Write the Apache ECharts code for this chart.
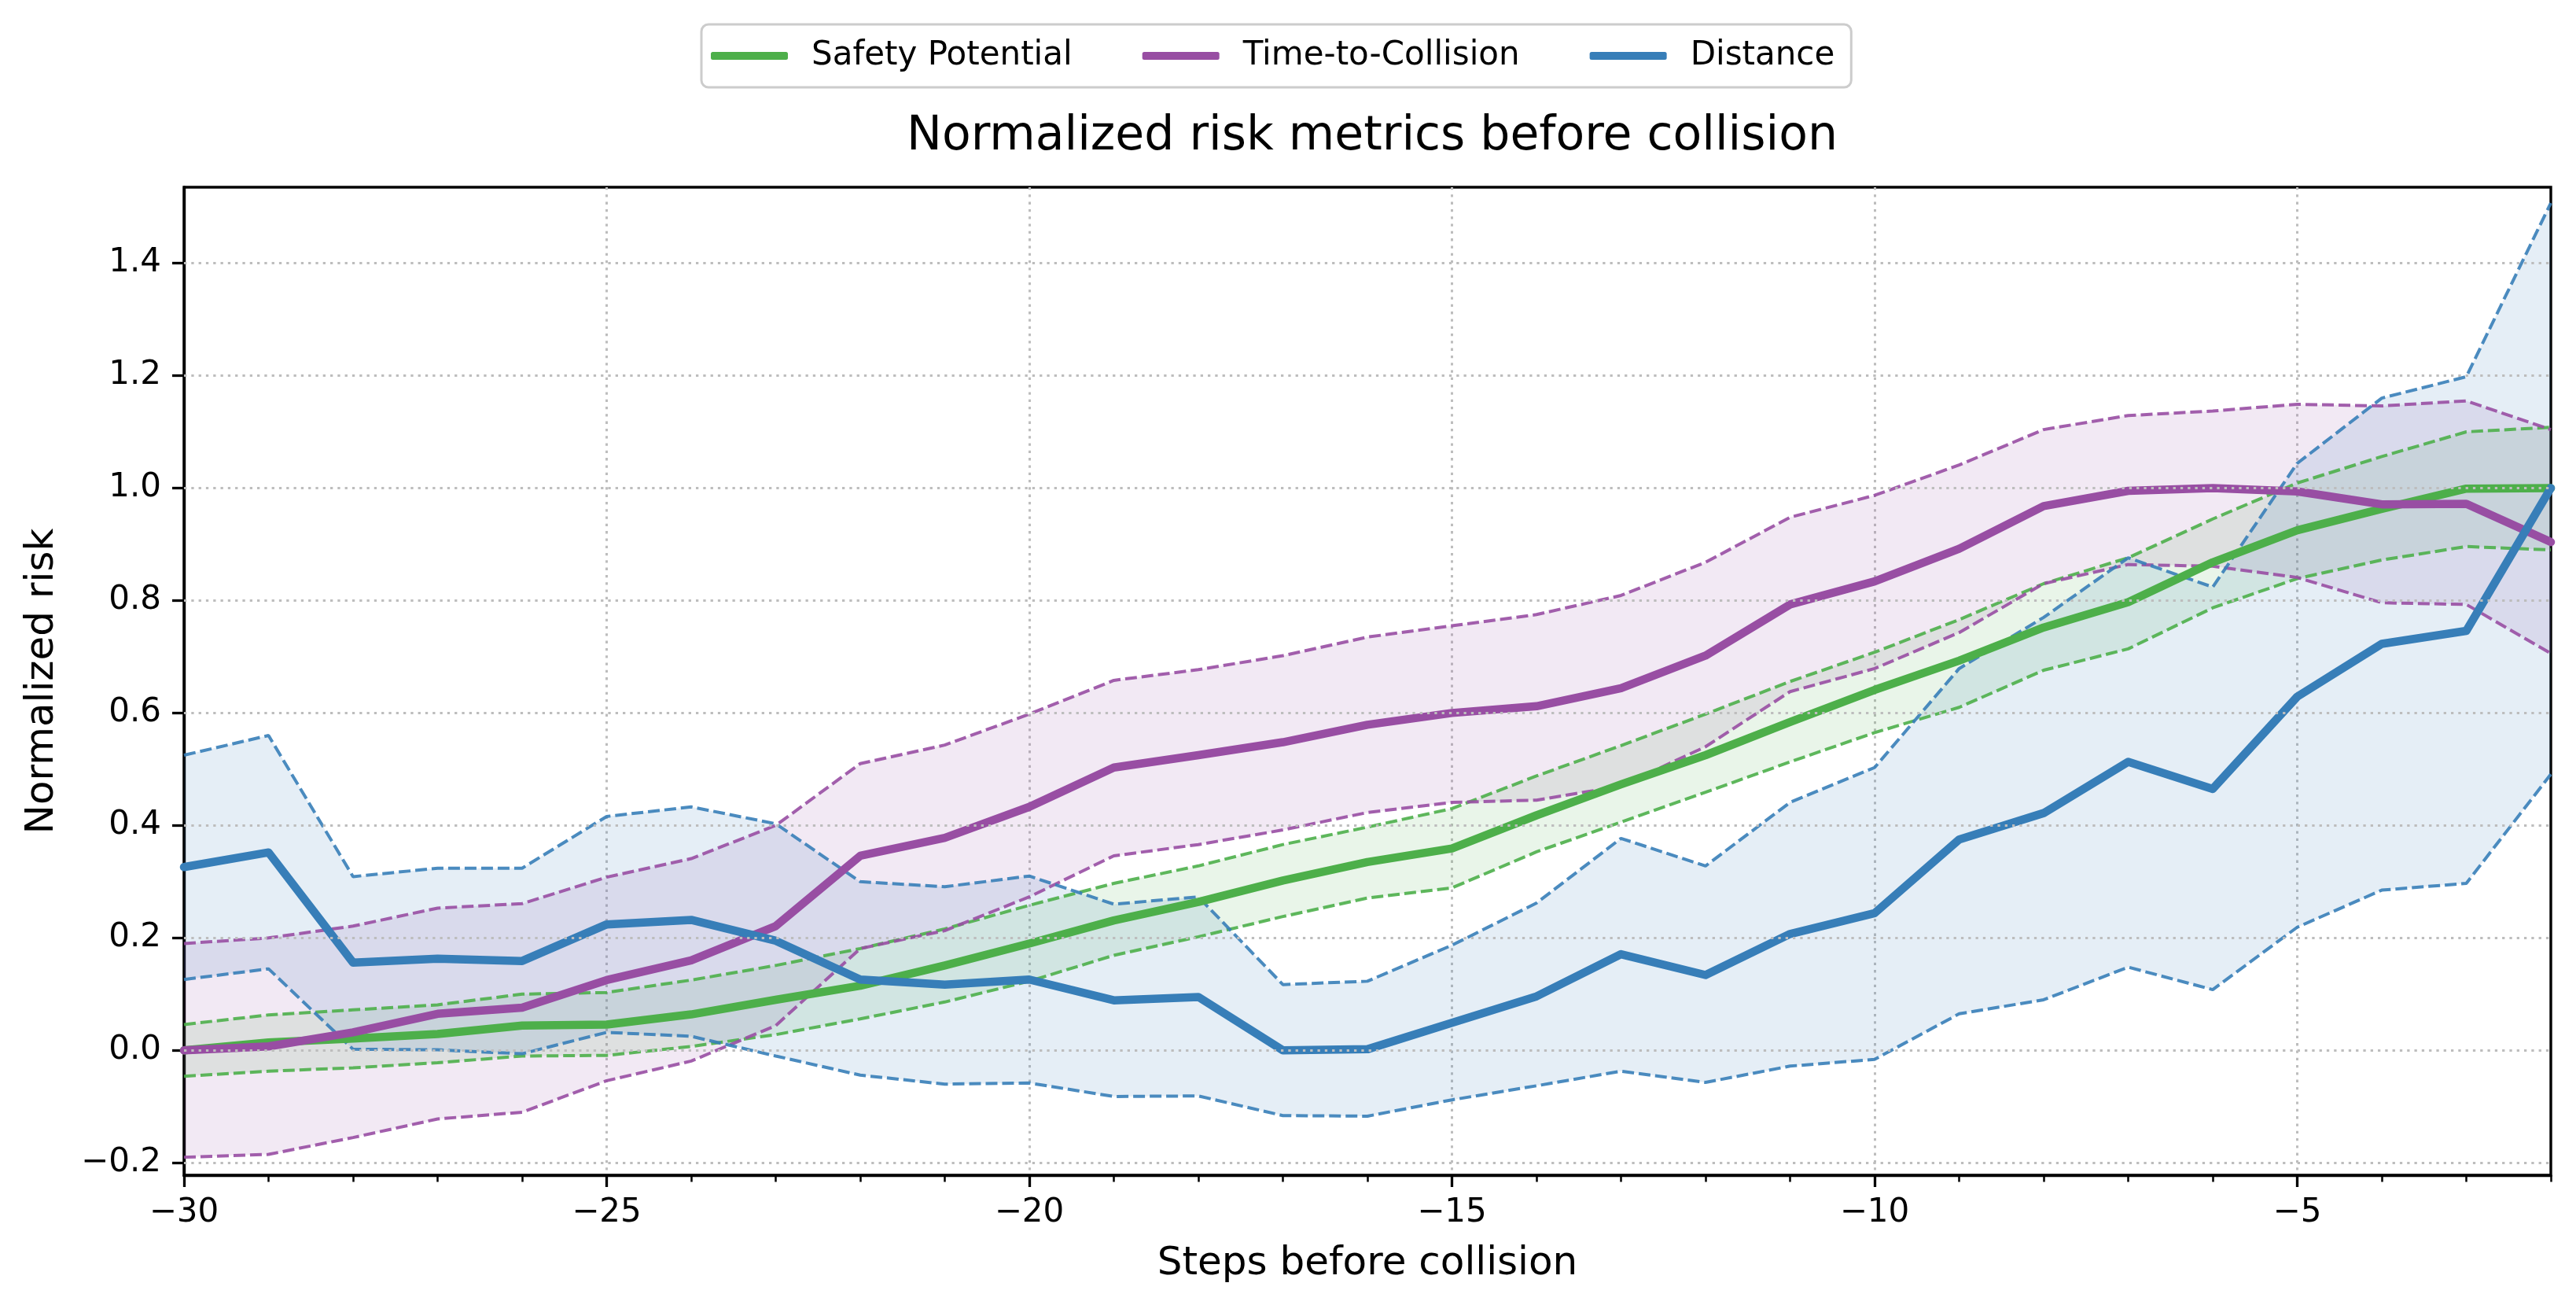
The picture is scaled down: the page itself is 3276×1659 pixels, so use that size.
<!DOCTYPE html>
<html>
<head>
<meta charset="utf-8">
<script src="https://cdn.jsdelivr.net/npm/echarts@6/dist/echarts.min.js"></script>
<style>
html,body{margin:0;padding:0;background:#fff;}
#chart{width:3276px;height:1659px;}
</style>
</head>
<body>
<div id="chart"></div>
<script>
const steps = [-30,-29,-28,-27,-26,-25,-24,-23,-22,-21,-20,-19,-18,-17,-16,-15,-14,-13,-12,-11,-10,-9,-8,-7,-6,-5,-4,-3,-2];

const spMean  = [0.000,0.014,0.021,0.029,0.044,0.046,0.064,0.090,0.115,0.151,0.190,0.231,0.264,0.302,0.335,0.359,0.418,0.473,0.525,0.584,0.641,0.693,0.752,0.797,0.868,0.925,0.963,0.999,1.000];
const spUpper = [0.046,0.063,0.072,0.081,0.100,0.103,0.125,0.151,0.181,0.216,0.258,0.297,0.328,0.366,0.397,0.430,0.488,0.542,0.598,0.656,0.708,0.766,0.830,0.876,0.945,1.009,1.056,1.100,1.108];
const spLower = [-0.046,-0.037,-0.031,-0.022,-0.010,-0.009,0.007,0.028,0.056,0.086,0.123,0.169,0.202,0.238,0.271,0.289,0.353,0.406,0.459,0.513,0.565,0.610,0.676,0.714,0.787,0.839,0.872,0.896,0.890];

const ttcMean  = [0.000,0.007,0.032,0.065,0.076,0.125,0.160,0.221,0.346,0.378,0.433,0.503,0.525,0.548,0.579,0.600,0.612,0.644,0.702,0.793,0.834,0.892,0.968,0.995,1.000,0.994,0.971,0.972,0.904];
const ttcUpper = [0.190,0.200,0.221,0.253,0.261,0.308,0.341,0.400,0.510,0.543,0.598,0.658,0.677,0.702,0.735,0.755,0.775,0.809,0.868,0.948,0.987,1.041,1.104,1.129,1.137,1.149,1.146,1.155,1.104];
const ttcLower = [-0.190,-0.185,-0.155,-0.122,-0.110,-0.054,-0.019,0.044,0.181,0.213,0.273,0.346,0.366,0.392,0.423,0.441,0.445,0.470,0.540,0.638,0.679,0.743,0.830,0.864,0.861,0.841,0.796,0.793,0.706];

const distMean  = [0.326,0.352,0.156,0.163,0.159,0.224,0.232,0.195,0.126,0.117,0.126,0.089,0.095,0.000,0.002,0.049,0.096,0.171,0.134,0.207,0.244,0.375,0.422,0.513,0.465,0.629,0.723,0.746,1.000];
const distUpper = [0.525,0.560,0.309,0.324,0.324,0.416,0.433,0.403,0.300,0.291,0.310,0.260,0.273,0.117,0.123,0.187,0.262,0.377,0.328,0.441,0.503,0.679,0.770,0.876,0.824,1.044,1.160,1.198,1.507];
const distLower = [0.126,0.145,0.002,0.001,-0.006,0.032,0.025,-0.010,-0.044,-0.060,-0.058,-0.082,-0.081,-0.116,-0.117,-0.088,-0.063,-0.037,-0.057,-0.028,-0.016,0.065,0.090,0.148,0.108,0.219,0.285,0.297,0.491];

const xTicks = [-30,-25,-20,-15,-10,-5];
const yTicks = [-0.2,0.0,0.2,0.4,0.6,0.8,1.0,1.2,1.4];

const metrics = [
  {name:'Safety Potential', color:'#4daf4a', mean:spMean, upper:spUpper, lower:spLower, fillOpacity:0.12},
  {name:'Time-to-Collision', color:'#984ea3', mean:ttcMean, upper:ttcUpper, lower:ttcLower, fillOpacity:0.12},
  {name:'Distance', color:'#377eb8', mean:distMean, upper:distUpper, lower:distLower, fillOpacity:0.13}
];

const FONT = 'DejaVu Sans';
const minus = s => String(s).replace('-', '\u2212');
const pairs = arr => steps.map((s,i)=>[s, arr[i]]);
const GRID_STYLE = {color:'#bdbdbd', type:[3.3,6], width:3};

const series = [];
// bands
metrics.forEach(m => {
  series.push({
    type:'custom', name:m.name+' band', silent:true, z:1,
    xAxisIndex:0, yAxisIndex:0,
    data:[[steps[0], m.lower[0]]],
    renderItem:(params, api) => {
      const pts = [];
      for (let i=0;i<steps.length;i++) pts.push(api.coord([steps[i], m.upper[i]]));
      for (let i=steps.length-1;i>=0;i--) pts.push(api.coord([steps[i], m.lower[i]]));
      return {type:'polygon', shape:{points:pts}, style:{fill:m.color, opacity:m.fillOpacity}};
    }
  });
});
// horizontal grid lines
series.push({
  type:'line', name:'grid', silent:true, z:2, data:[[steps[0],0]], showSymbol:false,
  lineStyle:{opacity:0},
  markLine:{
    silent:true, symbol:['none','none'], label:{show:false}, animation:false,
    lineStyle:GRID_STYLE,
    data: yTicks.map(v=>({yAxis:v}))
  }
});
// dashed bounds
metrics.forEach(m => {
  [m.upper, m.lower].forEach((b, bi) => {
    series.push({
      type:'line', name:m.name+(bi?' lower':' upper'), data:pairs(b), z:3,
      showSymbol:false, symbol:'none', silent:true,
      lineStyle:{color:m.color, width:4, type:[15,6], opacity:0.9}
    });
  });
});
// means
metrics.forEach(m => {
  series.push({
    type:'line', name:m.name, data:pairs(m.mean), z:4,
    showSymbol:false, symbol:'none',
    itemStyle:{color:m.color},
    lineStyle:{color:m.color, width:10.5, cap:'round', join:'round'}
  });
});

const chart = echarts.init(document.getElementById('chart'));
chart.setOption({
  animation:false,
  backgroundColor:'#fff',
  textStyle:{fontFamily:FONT},
  title:{
    text:'Normalized risk metrics before collision',
    left:1740, top:139, textAlign:'center',
    textStyle:{fontFamily:FONT, fontSize:60, fontWeight:'normal', color:'#000'}
  },
  legend:{
    data:metrics.map(m=>m.name),
    left:892, top:31,
    icon:'roundRect', itemWidth:98, itemHeight:10, itemGap:89,
    padding:[19,21,19,12],
    borderColor:'#cccccc', borderWidth:3, borderRadius:9,
    backgroundColor:'rgba(255,255,255,0.8)',
    textStyle:{fontFamily:FONT, fontSize:42, color:'#000', padding:[0,0,0,25]}
  },
  grid:{left:234, right:32, top:238, bottom:165, show:true, borderColor:'#000', borderWidth:3.4, backgroundColor:'transparent'},
  xAxis:[{
    type:'value', min:-30, max:-2, interval:5,
    name:'Steps before collision', nameLocation:'middle', nameGap:88,
    nameTextStyle:{fontFamily:FONT, fontSize:50, color:'#000'},
    axisLine:{show:true, onZero:false, lineStyle:{color:'#000', width:3.4}},
    axisTick:{show:true, length:15, lineStyle:{color:'#000', width:3.3}, customValues:xTicks},
    axisLabel:{fontFamily:FONT, fontSize:42, color:'#000', margin:27, customValues:xTicks, formatter:v=>minus(v)},
    splitLine:{show:true, lineStyle:GRID_STYLE}
  },{
    type:'value', min:-30, max:-2, interval:1, position:'bottom', gridIndex:0,
    axisLine:{show:false, onZero:false}, axisLabel:{show:false}, splitLine:{show:false},
    axisTick:{show:true, length:8.5, lineStyle:{color:'#000', width:2.5}}
  }],
  yAxis:{
    type:'value', min:-0.222, max:1.535,
    name:'Normalized risk', nameLocation:'middle', nameGap:155,
    nameTextStyle:{fontFamily:FONT, fontSize:50, color:'#000'},
    axisLine:{show:true, onZero:false, lineStyle:{color:'#000', width:3.4}},
    axisTick:{show:true, length:15, lineStyle:{color:'#000', width:3.3}, customValues:yTicks},
    axisLabel:{fontFamily:FONT, fontSize:42, color:'#000', margin:29, customValues:yTicks, formatter:v=>minus(v.toFixed(1))},
    splitLine:{show:false}
  },
  series:series
});
</script>
</body>
</html>
